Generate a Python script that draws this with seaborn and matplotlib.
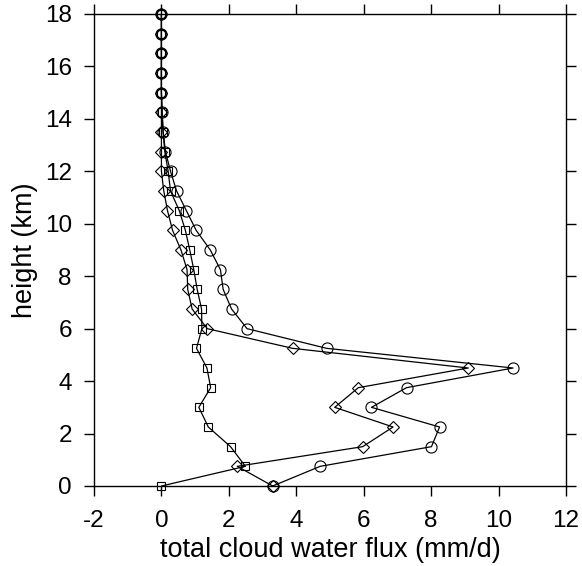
import numpy as np
import pandas as pd
import matplotlib
matplotlib.use("Agg")
import matplotlib.pyplot as plt
import seaborn as sns

# heights (km), one level every 0.75 km
height = [0, 0.75, 1.5, 2.25, 3, 3.75, 4.5, 5.25, 6, 6.75, 7.5, 8.25, 9,
          9.75, 10.5, 11.25, 12, 12.75, 13.5, 14.25, 15, 15.75, 16.5, 17.25, 18]

# flux values (mm/d)
flux_circle = [3.3, 4.71, 8.01, 8.25, 6.23, 7.27, 10.43, 4.9, 2.54, 2.08, 1.83, 1.75, 1.45,
               1.03, 0.74, 0.45, 0.27, 0.12, 0.05, 0.02, 0.0, 0.0, 0.0, 0.0, 0.0]
flux_diamond = [3.3, 2.25, 5.97, 6.87, 5.14, 5.84, 9.1, 3.89, 1.36, 0.91, 0.78, 0.76, 0.58,
                0.33, 0.18, 0.07, 0.0, 0.0, 0.0, 0.0, 0.0, 0.0, 0.0, 0.0, 0.0]
flux_square = [0.0, 2.49, 2.05, 1.39, 1.11, 1.46, 1.35, 1.04, 1.2, 1.19, 1.06, 0.96, 0.84,
               0.71, 0.53, 0.27, 0.2, 0.1, 0.05, 0.02, 0.0, 0.0, 0.0, 0.0, 0.0]

sns.set_style("ticks")
plt.rcParams['font.family'] = ['Liberation Sans', 'DejaVu Sans']
plt.rcParams['axes.unicode_minus'] = False

fig = plt.figure(figsize=(5.82, 5.66), dpi=100)
ax = fig.add_axes([94 / 582, 80 / 566, 472 / 582, 472 / 566])

df = pd.DataFrame({"height": height, "circle": flux_circle,
                   "diamond": flux_diamond, "square": flux_square})

# squares first, circles on top
for col, mk, ms in [("square", "s", 6), ("diamond", "D", 6), ("circle", "o", 8)]:
    sns.lineplot(data=df, x=col, y="height", sort=False, estimator=None, ax=ax,
                 color="black", linewidth=0.9, marker=mk, markersize=ms,
                 markerfacecolor="none", markeredgecolor="black",
                 markeredgewidth=0.8, clip_on=False)

ax.set_xlim(-2, 12)
ax.set_ylim(0, 18)
ax.set_xticks(np.arange(-2, 13, 2))
ax.set_yticks(np.arange(0, 19, 2))
ax.set_xlabel("total cloud water flux (mm/d)", fontsize=19.5, labelpad=4, color="black")
ax.set_ylabel("height (km)", fontsize=19.5, labelpad=5, color="black")
ax.tick_params(which="both", direction="out", top=True, right=True,
               length=7, width=1, labelsize=17.5, colors="black")
ax.tick_params(axis="x", pad=10)
ax.tick_params(axis="y", pad=9)
for sp in ax.spines.values():
    sp.set_visible(True)
    sp.set_linewidth(1)
    sp.set_color("black")

fig.savefig("out.png", dpi=100)
